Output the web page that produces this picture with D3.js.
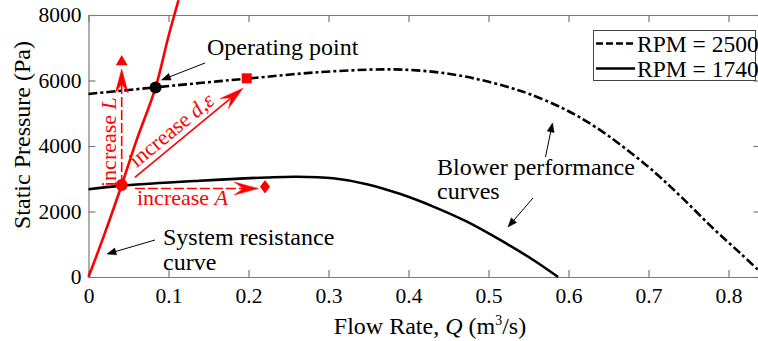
<!DOCTYPE html>
<html>
<head>
<meta charset="utf-8">
<script src="https://cdn.jsdelivr.net/npm/d3@7"></script>
<style>
  body { margin: 0; background: #fff; }
  svg { display: block; }
</style>
</head>
<body>
<svg id="chart" width="758" height="341"></svg>
<script>
// Blower curve at 2500 RPM (flow m^3/s, static pressure Pa)
const flow2500 = [0, 0.083, 0.142, 0.202, 0.286, 0.368, 0.41, 0.452, 0.49, 0.527, 0.552, 0.593, 0.635, 0.698, 0.739, 0.781, 0.815, 0.84];
const pres2500 = [5590, 5790, 5930, 6066, 6250, 6340, 6310, 6200, 6020, 5780, 5580, 5150, 4560, 3400, 2490, 1480, 720, 150];

// Blower curve at 1740 RPM
const flow1740 = [0, 0.0415, 0.139, 0.223, 0.26, 0.306, 0.348, 0.389, 0.431, 0.473, 0.514, 0.556, 0.587];
const pres1740 = [2680, 2790, 2940, 3040, 3062, 3013, 2835, 2540, 2150, 1690, 1140, 520, 0];

// System resistance curve
const flowSys = [0, 0.02, 0.0415, 0.06, 0.0838, 0.1, 0.1125];
const presSys = [0, 1310, 2809, 4170, 5785, 7350, 8450];

// Tick values
const xTicks = [0, 0.1, 0.2, 0.3, 0.4, 0.5, 0.6, 0.7, 0.8];
const yTicks = [0, 2000, 4000, 6000, 8000];

// Legend entries
const legendLabels = ["RPM = 2500", "RPM = 1740"];

// Design points
const basePoint = [0.0415, 2809];
const operatingPoint = [0.0838, 5785];
const pointL = [0.0415, 6573];   // triangle
const pointD = [0.1978, 6066];   // square
const pointA = [0.2206, 2757];   // diamond

// Trend arrows: [q0, p0, q1, p1]
const arrowL = [0.0415, 2809, 0.0415, 6350];
const arrowD = [0.058, 3044, 0.193, 5761];
const arrowA = [0.058, 2702, 0.2122, 2702];

const W = 758, H = 341;
const FONT = '"Liberation Serif", "Times New Roman", Times, Tinos, "DejaVu Serif", "Noto Serif", serif';
const svg = d3.select("#chart").attr("font-family", FONT);
svg.append("rect").attr("width", W).attr("height", H).attr("fill", "#fff");

const x = d3.scaleLinear().domain([0, 0.84]).range([88.5, 760.5]);
const y = d3.scaleLinear().domain([0, 8000]).range([277, 15]);

const FS_TICK = 21.5;   // tick labels
const FS_TITLE = 24;    // axis titles and callouts
const FS_LEG = 23.5;    // legend
const FS_RED = 22;      // red trend labels
const axisGray = "#7a7a7a";
const RED = "#ff0000";

// Axes (ticks point inward)
const gx = svg.append("g").attr("transform", `translate(0,${y(0)})`)
  .call(d3.axisBottom(x).tickValues(xTicks).tickSize(-7).tickSizeOuter(0).tickPadding(11)
    .tickFormat(d => d === 0 ? "0" : d3.format(".1f")(d)));
const gxt = svg.append("g").attr("transform", `translate(0,${y(8000)})`)
  .call(d3.axisTop(x).tickValues(xTicks).tickSize(-7).tickSizeOuter(0).tickFormat(""));
const gy = svg.append("g").attr("transform", `translate(${x(0)},0)`)
  .call(d3.axisLeft(y).tickValues(yTicks).tickSize(-7).tickSizeOuter(0).tickPadding(7)
    .tickFormat(d3.format("d")));
const gyr = svg.append("g").attr("transform", `translate(${x(0.84)},0)`)
  .call(d3.axisRight(y).tickValues(yTicks).tickSize(-7).tickSizeOuter(0).tickFormat(""));

[gx, gxt, gy, gyr].forEach(g => {
  g.attr("font-family", FONT).attr("font-size", FS_TICK);
  g.select(".domain").attr("stroke", axisGray).attr("stroke-width", 1.2);
  g.selectAll(".tick line").attr("stroke", axisGray).attr("stroke-width", 1.2);
  g.selectAll(".tick text").attr("fill", "#000");
});

// Axis titles
const xt = svg.append("text").attr("x", 430).attr("y", 334).attr("text-anchor", "middle")
  .attr("font-size", FS_TITLE).attr("fill", "#000");
xt.append("tspan").text("Flow Rate, ");
xt.append("tspan").attr("font-style", "italic").text("Q");
xt.append("tspan").text(" (m");
xt.append("tspan").attr("font-size", 14).attr("dy", -9).text("3");
xt.append("tspan").attr("dy", 9).text("/s)");

svg.append("text").attr("transform", "translate(30,135) rotate(-90)")
  .attr("text-anchor", "middle").attr("font-size", FS_TITLE).attr("fill", "#000")
  .text("Static Pressure (Pa)");

// Curves
const line = d3.line().x(d => x(d[0])).y(d => y(d[1])).curve(d3.curveCatmullRom.alpha(0.5));
const zip = (a, b) => a.map((v, i) => [v, b[i]]);

const DASHDOT = "9,3,3,3";

svg.append("path").datum(zip(flow2500, pres2500)).attr("d", line)
  .attr("fill", "none").attr("stroke", "#000").attr("stroke-width", 2.6)
  .attr("stroke-dasharray", DASHDOT);

svg.append("path").datum(zip(flow1740, pres1740)).attr("d", line)
  .attr("fill", "none").attr("stroke", "#000").attr("stroke-width", 2.6);

svg.append("path").datum(zip(flowSys, presSys)).attr("d", line)
  .attr("fill", "none").attr("stroke", RED).attr("stroke-width", 2.6);

// Filled notched arrowhead with its tip at (px,py), pointing along angle a (radians)
function arrowHead(px, py, a, len, half, notch, color) {
  const p = `M0,0 L${-len},${-half} L${-notch},0 L${-len},${half} Z`;
  svg.append("path").attr("d", p)
    .attr("transform", `translate(${px},${py}) rotate(${a * 180 / Math.PI})`)
    .attr("fill", color).attr("stroke", color).attr("stroke-width", 0.5);
}

function trendArrow(a, dashed) {
  const x0 = x(a[0]), y0 = y(a[1]), x1 = x(a[2]), y1 = y(a[3]);
  const ang = Math.atan2(y1 - y0, x1 - x0);
  svg.append("line")
    .attr("x1", x0).attr("y1", y0)
    .attr("x2", x1 - Math.cos(ang) * 14).attr("y2", y1 - Math.sin(ang) * 14)
    .attr("stroke", RED).attr("stroke-width", 1.6)
    .attr("stroke-dasharray", dashed ? "10,3" : null);
  arrowHead(x1, y1, ang, 24, 6.5, 15, RED);
  return ang;
}

trendArrow(arrowL, true);
const angD = trendArrow(arrowD, false);
trendArrow(arrowA, true);

// Markers
svg.append("circle").attr("cx", x(basePoint[0])).attr("cy", y(basePoint[1])).attr("r", 6).attr("fill", RED);
svg.append("circle").attr("cx", x(operatingPoint[0])).attr("cy", y(operatingPoint[1])).attr("r", 6).attr("fill", "#000");
svg.append("path").attr("d", d3.symbol(d3.symbolTriangle, 60)())
  .attr("transform", `translate(${x(pointL[0])},${y(pointL[1])})`).attr("fill", RED);
svg.append("rect").attr("x", x(pointD[0]) - 5).attr("y", y(pointD[1]) - 5)
  .attr("width", 10).attr("height", 10).attr("fill", RED);
svg.append("path").attr("d", "M0,-6.8 L5,0 L0,6.8 L-5,0 Z")
  .attr("transform", `translate(${x(pointA[0])},${y(pointA[1])})`).attr("fill", RED);

// Red trend labels
const tL = svg.append("text").attr("transform", `translate(116,187) rotate(-90)`)
  .attr("font-size", FS_RED).attr("fill", RED);
tL.append("tspan").text("increase ");
tL.append("tspan").attr("font-style", "italic").text("L");

{
  const sx = x(arrowD[0]) + Math.cos(angD) * 7 + Math.sin(angD) * 6;
  const sy = y(arrowD[1]) + Math.sin(angD) * 7 - Math.cos(angD) * 6;
  const tD = svg.append("text")
    .attr("transform", `translate(${sx},${sy}) rotate(${angD * 180 / Math.PI})`)
    .attr("font-size", FS_RED).attr("fill", RED);
  tD.append("tspan").text("increase ");
  tD.append("tspan").attr("font-style", "italic").text("d,ε");
}

const tA = svg.append("text").attr("x", 137).attr("y", 205)
  .attr("font-size", FS_RED).attr("fill", RED);
tA.append("tspan").text("increase ");
tA.append("tspan").attr("font-style", "italic").text("A");

// Black callouts
function callout(x0, y0, x1, y1) {
  const ang = Math.atan2(y1 - y0, x1 - x0);
  svg.append("line").attr("x1", x0).attr("y1", y0)
    .attr("x2", x1 - Math.cos(ang) * 6).attr("y2", y1 - Math.sin(ang) * 6)
    .attr("stroke", "#000").attr("stroke-width", 1);
  arrowHead(x1, y1, ang, 9, 3.5, 9, "#000");
}

svg.append("text").attr("x", 207).attr("y", 55).attr("font-size", FS_TITLE).attr("fill", "#000")
  .text("Operating point");
callout(205, 63, 161.5, 80);

svg.append("text").attr("x", 437).attr("y", 175).attr("font-size", FS_TITLE).attr("fill", "#000")
  .text("Blower performance");
svg.append("text").attr("x", 437).attr("y", 199).attr("font-size", FS_TITLE).attr("fill", "#000")
  .text("curves");
callout(545.5, 157, 552.5, 123);
callout(533, 198, 508, 227);

svg.append("text").attr("x", 163).attr("y", 245).attr("font-size", FS_TITLE).attr("fill", "#000")
  .text("System resistance");
svg.append("text").attr("x", 163).attr("y", 270).attr("font-size", FS_TITLE).attr("fill", "#000")
  .text("curve");
callout(155, 240, 107, 254);

// Legend
const lg = svg.append("g");
lg.append("rect").attr("x", 593.5).attr("y", 30.5).attr("width", 162).attr("height", 50)
  .attr("fill", "#fff").attr("stroke", "#444").attr("stroke-width", 1);
legendLabels.forEach((lab, i) => {
  const ly = 43.5 + i * 25;
  lg.append("line").attr("x1", 596).attr("x2", 635).attr("y1", ly).attr("y2", ly)
    .attr("stroke", "#000").attr("stroke-width", 2.6)
    .attr("stroke-dasharray", i === 0 ? "7,3" : null);
  lg.append("text").attr("x", 637).attr("y", ly + 8).attr("font-size", FS_LEG).attr("fill", "#000")
    .text(lab);
});
</script>
</body>
</html>
